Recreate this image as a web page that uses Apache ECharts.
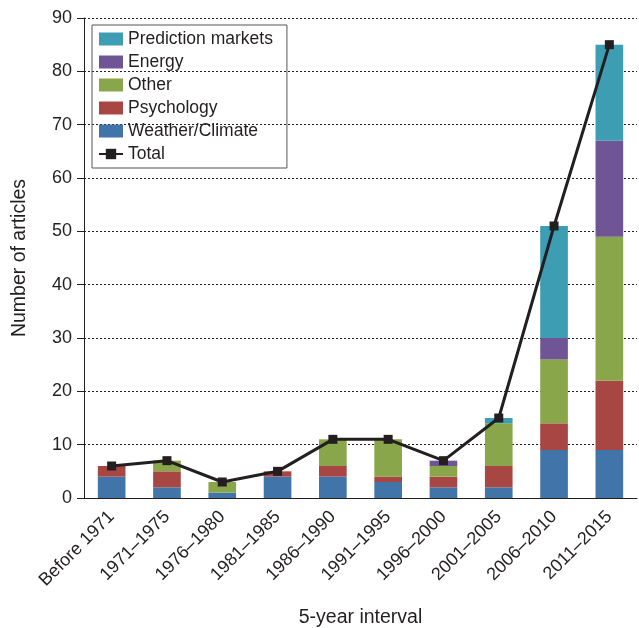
<!DOCTYPE html>
<html>
<head>
    <meta charset="utf-8">
    <title>Articles by interval</title>
    <script src="https://cdn.jsdelivr.net/npm/echarts@6/dist/echarts.min.js"></script>
    <style>body{margin:0;background:#fff;}</style>
</head>
<body>
    <div id="main" style="width:639px;height:628px;"></div>
<script>
var categories = ['Before 1971', '1971\u20131975', '1976\u20131980', '1981\u20131985', '1986\u20131990',
    '1991\u20131995', '1996\u20132000', '2001\u20132005', '2006\u20132010', '2011\u20132015'];
var weather = [4, 2, 1, 4, 4, 3, 2, 2, 9, 9];
var psychology = [2, 3, 0, 1, 2, 1, 2, 4, 5, 13];
var other = [0, 2, 2, 0, 5, 7, 2, 8, 12, 27];
var energy = [0, 0, 0, 0, 0, 0, 1, 0, 4, 18];
var prediction = [0, 0, 0, 0, 0, 0, 0, 1, 21, 18];
var total = [6, 7, 3, 5, 11, 11, 7, 15, 51, 85];

var font = 'Liberation Sans, Arial, sans-serif';

function bar(name, data, color) {
    return {
        name: name, type: 'bar', stack: 'a', data: data, barWidth: '50%',
        itemStyle: { color: color }
    };
}

var myChart = echarts.init(document.getElementById('main'));
myChart.setOption({
    animation: false,
    textStyle: { fontFamily: font },
    grid: { left: 84, right: 2, top: 18, bottom: 130, containLabel: false, outerBoundsMode: 'none' },
    legend: {
        orient: 'vertical',
        left: 92, top: 25,
        padding: [4, 14, 4, 6],
        itemGap: 3,
        itemWidth: 24, itemHeight: 13,
        borderColor: '#555', borderWidth: 1,
        textStyle: { fontSize: 17.5, lineHeight: 20, color: '#231f20', fontFamily: font },
        data: [
            { name: 'Prediction markets', icon: 'rect' },
            { name: 'Energy', icon: 'rect' },
            { name: 'Other', icon: 'rect' },
            { name: 'Psychology', icon: 'rect' },
            { name: 'Weather/Climate', icon: 'rect' },
            { name: 'Total' }
        ]
    },
    xAxis: {
        type: 'category',
        data: categories,
        name: '5-year interval',
        nameLocation: 'middle',
        nameGap: 110,
        nameTextStyle: { fontSize: 19.5, color: '#231f20' },
        axisLine: { lineStyle: { color: '#231f20' } },
        axisTick: { lineStyle: { color: '#231f20' }, length: 6 },
        axisLabel: { rotate: 45, fontSize: 18, color: '#231f20', margin: 16 }
    },
    yAxis: {
        type: 'value',
        min: 0, max: 90, interval: 10,
        name: 'Number of articles',
        nameLocation: 'middle',
        nameGap: 54,
        nameTextStyle: { fontSize: 19.5, color: '#231f20' },
        axisLine: { show: true, lineStyle: { color: '#231f20' } },
        axisTick: { show: true, lineStyle: { color: '#231f20' }, length: 7 },
        axisLabel: { fontSize: 18, color: '#231f20', margin: 12 },
        splitLine: { lineStyle: { color: '#231f20', type: [2, 2], width: 1 } }
    },
    series: [
        bar('Weather/Climate', weather, '#4174a8'),
        bar('Psychology', psychology, '#a84644'),
        bar('Other', other, '#8aa64a'),
        bar('Energy', energy, '#6f5596'),
        bar('Prediction markets', prediction, '#3d9db3'),
        {
            name: 'Total', type: 'line', data: total,
            symbol: 'rect', symbolSize: 9,
            itemStyle: { color: '#231f20' },
            lineStyle: { color: '#231f20', width: 3 },
            z: 10
        }
    ]
});
</script>
</body>
</html>
